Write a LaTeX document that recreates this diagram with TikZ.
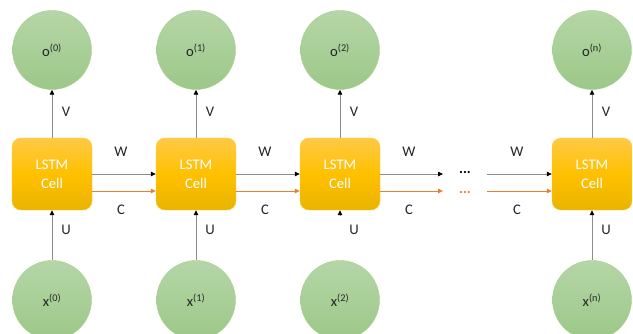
\documentclass[tikz,border=0pt]{standalone}
\usepackage{fontspec}
\setmainfont{Carlito}
\usetikzlibrary{arrows.meta}
\definecolor{cellT}{HTML}{FFCA45}
\definecolor{cellM}{HTML}{FFC000}
\definecolor{cellB}{HTML}{E9B400}
\definecolor{circT}{HTML}{B5D6A7}
\definecolor{circB}{HTML}{9CC888}
\definecolor{circE}{HTML}{A8D08D}
\definecolor{lineG}{HTML}{8C8C8C}
\definecolor{orng}{HTML}{ED7D31}
\definecolor{txt}{HTML}{262626}
\tikzset{
  cellbox/.style={rounded corners=9pt, minimum width=80pt, minimum height=72pt,
    top color=cellT, bottom color=cellB, middle color=cellM, draw=cellM!80!white, line width=0.4pt,
    text=white, align=center, font=\fontsize{14.7}{19}\selectfont, inner sep=0pt},
  circ/.style={circle, minimum size=79pt, inner sep=0pt, top color=circT, bottom color=circB,
    draw=circE, line width=0.4pt, text=txt, font=\fontsize{14.7}{16}\selectfont},
  arr/.style={draw=lineG, line width=0.8pt, -{Triangle[length=5pt,width=4.5pt,color=black]}},
  carr/.style={draw=orng, line width=0.8pt, -{Triangle[length=5pt,width=4.5pt,color=orng]}},
  lbl/.style={text=txt, font=\fontsize{14.7}{16}\selectfont, inner sep=0pt},
}
\begin{document}
\begin{tikzpicture}[x=1pt,y=-1pt]
\useasboundingbox (0,0) rectangle (633,333);
\fill[white] (0,0) rectangle (633,333);
% output circles
\node[circ] (o0) at (52,50) {o\textsuperscript{(0)}};
\node[circ] (o1) at (196,50) {o\textsuperscript{(1)}};
\node[circ] (o2) at (340,50) {o\textsuperscript{(2)}};
\node[circ] (on) at (592,50) {o\textsuperscript{(n)}};
% input circles
\node[circ] (x0) at (52,300) {x\textsuperscript{(0)}};
\node[circ] (x1) at (196,300) {x\textsuperscript{(1)}};
\node[circ] (x2) at (340,300) {x\textsuperscript{(2)}};
\node[circ] (xn) at (592,300) {x\textsuperscript{(n)}};
% cells
\node[cellbox] (c0) at (52,174) {LSTM\\Cell};
\node[cellbox] (c1) at (196,174) {LSTM\\Cell};
\node[cellbox] (c2) at (340,174) {LSTM\\Cell};
\node[cellbox] (cn) at (592,174) {LSTM\\Cell};
% V arrows
\draw[arr] (c0) -- (o0);
\draw[arr] (c1) -- (o1);
\draw[arr] (c2) -- (o2);
\draw[arr] (cn) -- (on);
% U arrows
\draw[arr] (x0) -- (c0);
\draw[arr] (x1) -- (c1);
\coordinate (u2) at (340,215.5);
\draw[arr] (u2) -- (c2.south);
\draw[arr] (xn) -- (cn);
% W and C arrows
\draw[arr] (c0.east) -- (c1.west);
\draw[carr] ([yshift=-17pt]c0.east) -- ([yshift=-17pt]c1.west);
\draw[arr] (c1.east) -- (c2.west);
\draw[carr] ([yshift=-17pt]c1.east) -- ([yshift=-17pt]c2.west);
\coordinate (wa) at (443,174);
\coordinate (ca) at (443,191);
\coordinate (wb) at (487,174);
\coordinate (cb) at (487,191);
\draw[arr] (c2.east) -- (wa);
\draw[carr] ([yshift=-17pt]c2.east) -- (ca);
\draw[arr] (wb) -- (cn.west);
\draw[carr] (cb) -- ([yshift=-17pt]cn.west);
\node[lbl, text=black] (d1) at (465,173) {\textbf{...}};
\node[lbl, text=orng] (d2) at (465,192.5) {\textbf{...}};
% labels
\foreach \xx/\nm in {66/a,210/b,354/c,606/d}{
  \node[lbl] (v\nm) at (\xx,112) {V};
  \node[lbl] (u\nm) at (\xx,230) {U};
}
\foreach \xx/\nm in {121/a,265/b,409/c,517/d}{
  \node[lbl] (w\nm) at (\xx,152) {W};
  \node[lbl] (k\nm) at (\xx,210) {C};
}
\end{tikzpicture}
\end{document}
